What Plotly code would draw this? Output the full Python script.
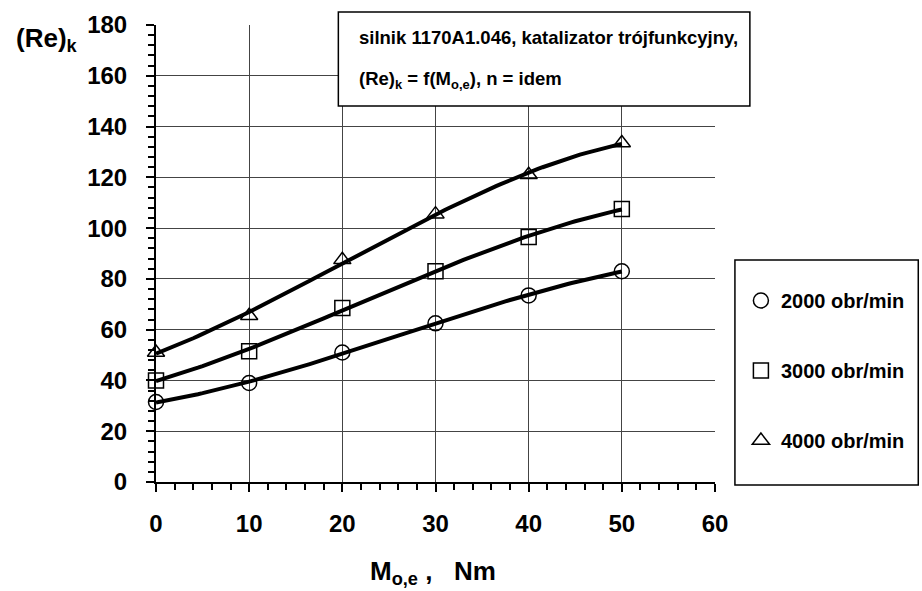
import numpy as np
import plotly.graph_objects as go

# ---- data ----
torque = [0, 10, 20, 30, 40, 50]                 # M_o,e [Nm]
re_2000 = [31.5, 39, 51, 62.5, 73.5, 83]
re_3000 = [40, 51.5, 68.5, 83, 96.5, 107.5]
re_4000 = [51, 65.5, 87.5, 105.5, 121, 133.5]
series_names = ["2000 obr/min", "3000 obr/min", "4000 obr/min"]
series_symbols = ["circle-open", "square-open", "triangle-up-open"]
x_ticks = [0, 10, 20, 30, 40, 50, 60]
y_ticks = [0, 20, 40, 60, 80, 100, 120, 140, 160, 180]

W, H = 922, 591
L, R, T, B = 156, 205, 25, 109
PW, PH = W - L - R, H - T - B


def px(x):
    return (x - L) / PW


def py(y):
    return (H - B - y) / PH


FONT = "Liberation Sans, Arial, sans-serif"

fig = go.Figure()

all_series = [re_2000, re_3000, re_4000]

# markers (drawn first so the trend lines lie on top of them)
for vals, name, sym in zip(all_series, series_names, series_symbols):
    fig.add_trace(go.Scatter(
        x=torque, y=vals, mode="markers", name=name,
        legendgroup=name,
        marker=dict(symbol=sym, size=15, color="black",
                    line=dict(color="black", width=1.5)),
        cliponaxis=False,
    ))

# polynomial trend lines (cubic fit, as in the spreadsheet original)
xs = np.linspace(min(torque), max(torque), 101)
for vals, name in zip(all_series, series_names):
    coef = np.polyfit(torque, vals, 3)
    fig.add_trace(go.Scatter(
        x=xs, y=np.polyval(coef, xs), mode="lines", showlegend=False,
        line=dict(color="black", width=4), hoverinfo="skip",
    ))

axis_common = dict(
    showline=True, linecolor="black", linewidth=2,
    ticks="outside", tickcolor="black", tickwidth=2, ticklen=8,
    showgrid=True, gridcolor="#444444", gridwidth=1,
    zeroline=False,
    tickfont=dict(family=FONT, size=24, color="black", weight="bold"),
)

fig.update_xaxes(
    range=[0, 60], tickvals=x_ticks, ticktext=[str(v) for v in x_ticks],
    ticklabelstandoff=11,
    minor=dict(dtick=2, ticks="outside", ticklen=6, tickcolor="black",
               tickwidth=2, showgrid=False),
    **axis_common,
)
fig.update_yaxes(
    range=[0, 180], tickvals=y_ticks, ticktext=[str(v) for v in y_ticks],
    ticklabelstandoff=14,
    minor=dict(dtick=4, ticks="outside", ticklen=6, tickcolor="black",
               tickwidth=2, showgrid=False),
    **axis_common,
)

shapes = [
    # title box
    dict(type="rect", xref="paper", yref="paper",
         x0=px(339), x1=px(752), y0=py(106), y1=py(12),
         fillcolor="white", line=dict(color="black", width=1.5), layer="above"),
    # legend box
    dict(type="rect", xref="paper", yref="paper",
         x0=px(737), x1=px(921), y0=py(485), y1=py(260),
         fillcolor="white", line=dict(color="black", width=1.5), layer="below"),
]

annotations = [
    dict(text="silnik 1170A1.046, katalizator trójfunkcyjny,",
         xref="paper", yref="paper", x=px(358), y=py(37),
         xanchor="left", yanchor="middle", showarrow=False,
         font=dict(family=FONT, size=18.5, color="black", weight="bold")),
    dict(text="(Re)<sub>k</sub> = f(M<sub>o,e</sub>), n = idem",
         xref="paper", yref="paper", x=px(358), y=py(80),
         xanchor="left", yanchor="middle", showarrow=False,
         font=dict(family=FONT, size=18.5, color="black", weight="bold")),
    dict(text="(Re)<sub>k</sub>",
         xref="paper", yref="paper", x=px(47), y=py(40),
         xanchor="center", yanchor="middle", showarrow=False,
         font=dict(family=FONT, size=26, color="black", weight="bold")),
    dict(text="M<sub>o,e</sub> ,\u00a0\u00a0 Nm",
         xref="paper", yref="paper", x=px(434), y=py(572),
         xanchor="center", yanchor="middle", showarrow=False,
         font=dict(family=FONT, size=26, color="black", weight="bold")),
]

fig.update_layout(
    width=W, height=H,
    margin=dict(l=L, r=R, t=T, b=B, pad=0),
    paper_bgcolor="white", plot_bgcolor="white",
    shapes=shapes, annotations=annotations,
    showlegend=True,
    legend=dict(
        x=px(743), y=py(281), xanchor="left", yanchor="top",
        bgcolor="rgba(0,0,0,0)", borderwidth=0,
        font=dict(family=FONT, size=20, color="black", weight="bold"),
        tracegroupgap=41, traceorder="grouped",
    ),
)

fig.write_html("out.html")
